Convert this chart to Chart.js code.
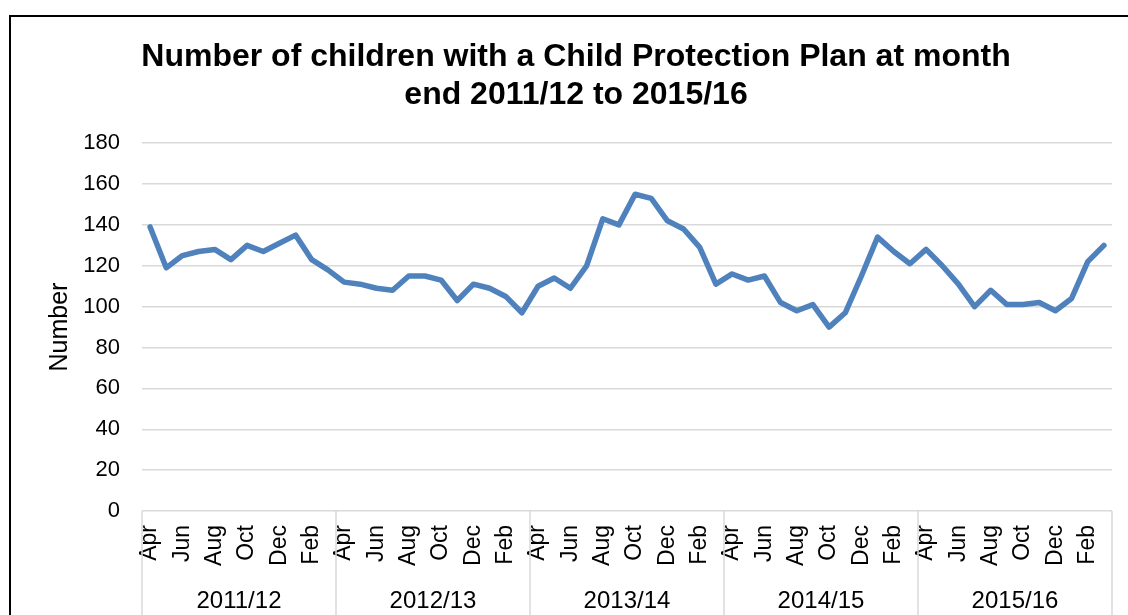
<!DOCTYPE html>
<html>
<head>
	<meta charset="utf-8">
	<title>Child Protection Plans</title>
	<script src="https://cdn.jsdelivr.net/npm/chart.js@4.4.1/dist/chart.umd.min.js"></script>
	<style>
		body { margin: 0; overflow: hidden; background: #fff; }
		#box { position: absolute; left: 9px; top: 15px; width: 1134px; height: 640px; border: 2px solid #000; box-sizing: border-box; }
	</style>
</head>
<body>

	<div id="box"><canvas id="mychart" width="1130" height="600"></canvas></div>

	<script type="text/javascript">

		const monthNames = ['Apr','May','Jun','Jul','Aug','Sep','Oct','Nov','Dec','Jan','Feb','Mar'];
		const years = ['2011/12','2012/13','2013/14','2014/15','2015/16'];

		// month end counts, Apr..Mar for each year
		const y2011 = [139,119,125,127,128,123,130,127,131,135,123,118];
		const y2012 = [112,111,109,108,115,115,113,103,111,109,105,97];
		const y2013 = [110,114,109,120,143,140,155,153,142,138,129,111];
		const y2014 = [116,113,115,102,98,101,90,97,115,134,127,121];
		const y2015 = [128,120,111,100,108,101,101,102,98,104,122,130];

		const labels = [];
		years.forEach(() => monthNames.forEach(m => labels.push(m)));
		const values = [].concat(y2011, y2012, y2013, y2014, y2015);

		const fontFam = "'Liberation Sans', Arial, sans-serif";
		Chart.defaults.font.family = fontFam;
		Chart.defaults.color = '#000';

		// year groups below the month labels
		const yearGroups = {
			id: 'yearGroups',
			afterDraw(chart) {
				const ctx = chart.ctx;
				const xs = chart.scales.x;
				const half = (xs.getPixelForValue(1) - xs.getPixelForValue(0)) / 2;
				const top = chart.chartArea.bottom;
				ctx.save();
				ctx.strokeStyle = '#d9d9d9';
				ctx.lineWidth = 1.5;
				for (let g = 0; g <= years.length; g++) {
					const bx = g < years.length ? xs.getPixelForValue(g * 12) - half : xs.getPixelForValue(g * 12 - 1) + half;
					ctx.beginPath();
					ctx.moveTo(bx, top);
					ctx.lineTo(bx, chart.height);
					ctx.stroke();
				}
				ctx.fillStyle = '#000';
				ctx.font = '24px ' + fontFam;
				ctx.textAlign = 'center';
				ctx.textBaseline = 'middle';
				years.forEach((yr, g) => {
					const cx = (xs.getPixelForValue(g * 12) + xs.getPixelForValue(g * 12 + 11)) / 2;
					ctx.fillText(yr, cx, top + 90);
				});
				ctx.restore();
			}
		};

		const ctx = document.getElementById('mychart').getContext('2d');
		const myChart = new Chart(ctx, {
			type: 'line',
			data: {
				labels: labels,
				datasets: [{
					label: 'Number',
					data: values,
					borderColor: '#4f81bd',
					backgroundColor: '#4f81bd',
					borderWidth: 5.5,
					borderJoinStyle: 'round',
					borderCapStyle: 'round',
					pointRadius: 0,
					tension: 0,
					fill: false
				}]
			},
			options: {
				responsive: false,
				animation: false,
				layout: { padding: { left: 29, right: 29, top: 0, bottom: 0 } },
				plugins: {
					legend: { display: false },
					tooltip: { enabled: false },
					title: {
						display: true,
						text: ['Number of children with a Child Protection Plan at month', 'end 2011/12 to 2015/16'],
						font: { size: 32, weight: 'bold', lineHeight: 1.19 },
						color: '#000',
						padding: { top: 21.5, bottom: 28.5 }
					}
				},
				scales: {
					x: {
						offset: true,
						grid: { display: false, drawTicks: false },
						border: { display: false },
						ticks: {
							autoSkip: false,
							maxRotation: 90,
							minRotation: 90,
							padding: 14,
							font: { size: 23 },
							callback: function(val, idx) { return idx % 2 === 0 ? this.getLabelForValue(val) : ''; }
						},
						afterFit: s => { s.height = 106; s.paddingLeft = 0; s.paddingRight = 0; }
					},
					y: {
						min: 0,
						max: 180,
						grid: { color: '#d9d9d9', lineWidth: 1.5, drawTicks: false },
						border: { display: false },
						ticks: { stepSize: 20, padding: 22, font: { size: 22 } },
						title: {
							display: true,
							text: 'Number',
							font: { size: 25, lineHeight: 1.2 },
							padding: { top: 5, bottom: 0 }
						},
						afterFit: s => { s.width = 102; }
					}
				}
			},
			plugins: [yearGroups]
		});

	</script>

</body>
</html>
